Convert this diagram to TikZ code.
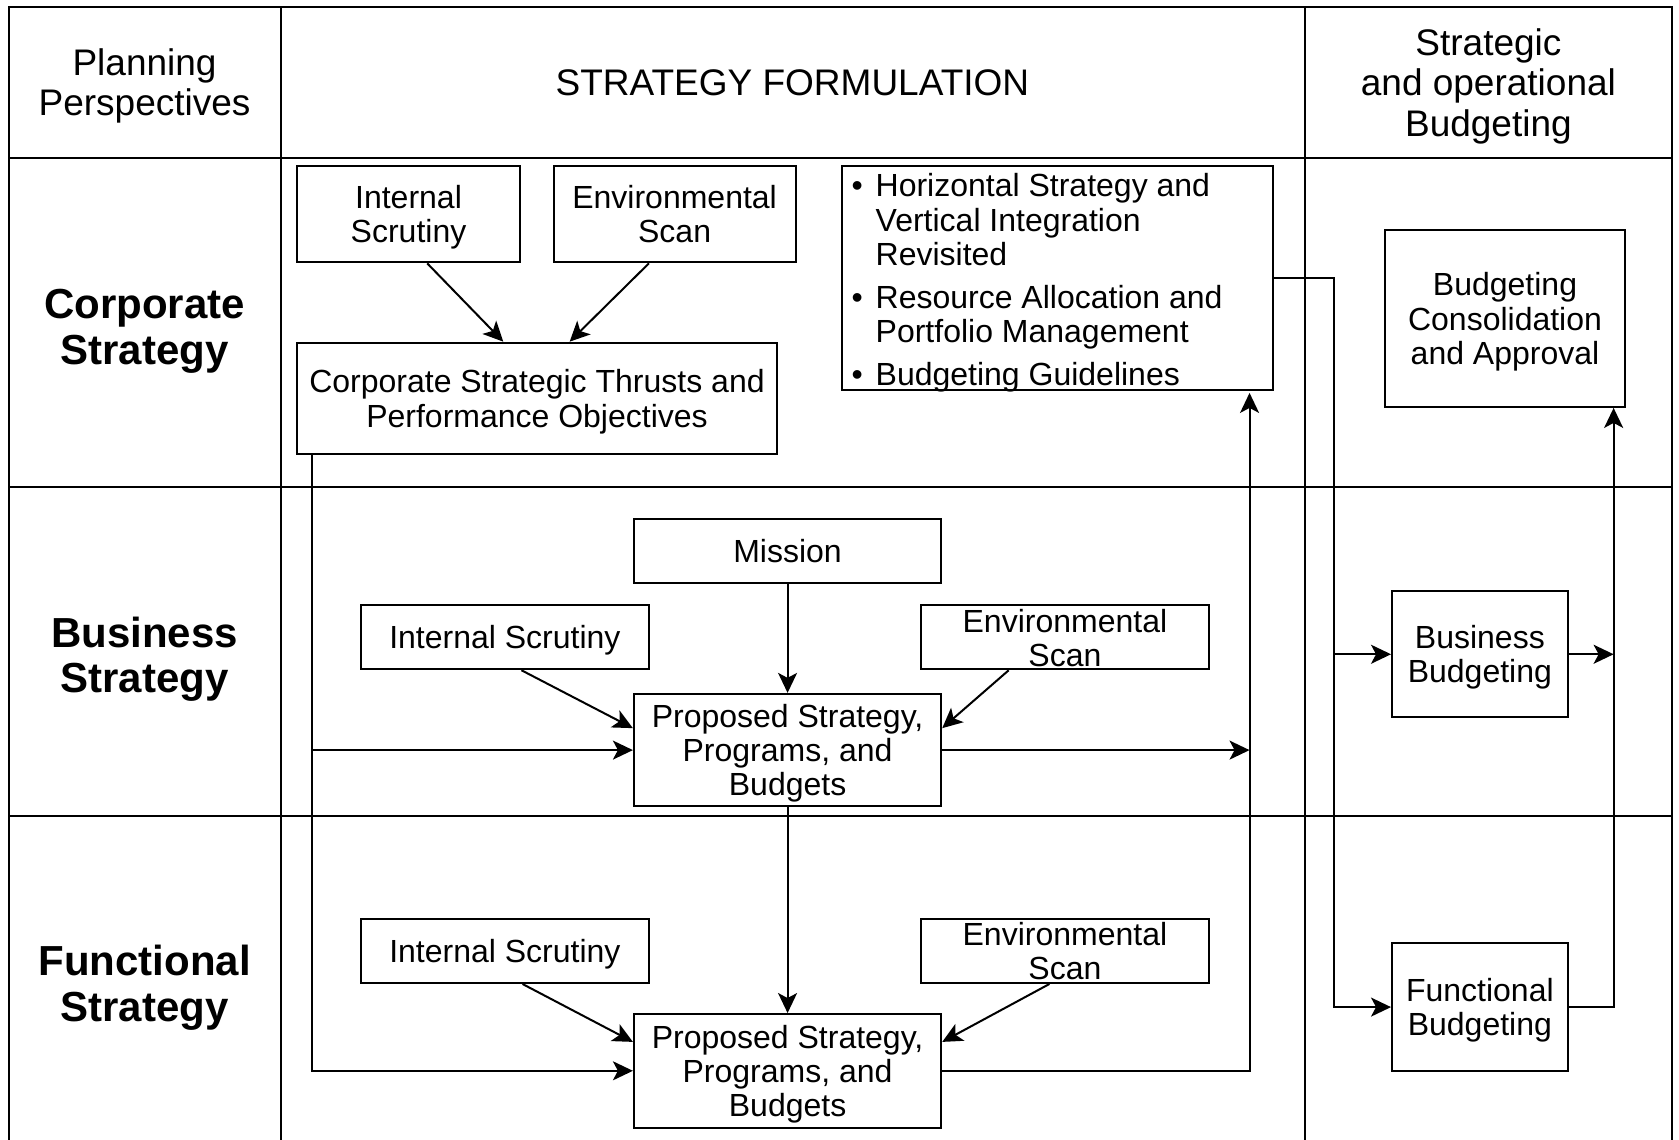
\documentclass[tikz,border=0pt]{standalone}
\usepackage{fontspec}
\setmainfont{Liberation Sans}
\usetikzlibrary{arrows.meta,calc}
\newcommand\nd[1]{\raisebox{0pt}[\height][0pt]{#1}}
\begin{document}
\begin{tikzpicture}[x=0.5354pt,y=-0.5354pt,
  grid/.style={line width=1pt},
  box/.style={draw, line width=1pt, inner sep=0pt, align=center, font=\fontsize{16}{17.1}\selectfont},
  sz/.style 2 args={minimum width=#1*0.5354pt, minimum height=#2*0.5354pt},
  txt/.style={inner sep=0pt, align=center, font=\fontsize{16}{17.1}\selectfont},
  hdr/.style={inner sep=0pt, align=center, font=\fontsize{18.5}{20.1}\selectfont},
  rowlab/.style={inner sep=0pt, align=center, font=\fontsize{21}{22.8}\selectfont\bfseries},
  conn/.style={line width=1pt},
  arr/.style={conn, -{Stealth[length=10pt,width=9.5pt,inset=2.5pt]}},
]
\useasboundingbox (0,0) rectangle (1568,1064.6);
% table
\draw[grid] (8,1064.6) -- (8,7) -- (1561,7) -- (1561,1064.6);
\draw[grid] (8,148) -- (1561,148);
\draw[grid] (8,455) -- (1561,455);
\draw[grid] (8,762) -- (1561,762);
\draw[grid] (262,7) -- (262,1064.6);
\draw[grid] (1219,7) -- (1219,1064.6);
% headers
\node[hdr] (hPP) at (135,77) {Planning\\\nd{Perspectives}};
\node[hdr] (hSF) at (740,77) {STRATEGY FORMULATION};
\node[hdr] (hSB) at (1390,77) {Strategic\\and operational\\\nd{Budgeting}};
\node[rowlab] (rC) at (135,305) {Corporate\\\nd{Strategy}};
\node[rowlab] (rB) at (135,611.5) {Business\\\nd{Strategy}};
\node[rowlab] (rF) at (135,918.5) {Functional\\\nd{Strategy}};
% corporate row
\node[box, sz={209}{90}] (cIS) at (381.5,200) {Internal\\\nd{Scrutiny}};
\node[box, sz={226}{90}] (cES) at (630,200) {Environmental\\Scan};
\node[box, sz={449}{104}] (cCS) at (501.5,372) {Corporate Strategic Thrusts and\\\nd{Performance Objectives}};
\node[box, sz={403}{209}] (cBL) at (987.5,259.5) {};
\node[txt, anchor=west, align=left] (cBLt) at (795,261)
  {\makebox[12pt][l]{•}Horizontal Strategy and\\\hspace*{12pt}Vertical Integration\\\hspace*{12pt}Revisited\\[4.3pt]
   \makebox[12pt][l]{•}Resource Allocation and\\\hspace*{12pt}Portfolio Management\\[4.3pt]
   \nd{\makebox[12pt][l]{•}Budgeting Guidelines}};
\node[box, sz={225}{165}] (cBC) at (1405.5,297.5) {Budgeting\\Consolidation\\\nd{and Approval}};
% business row
\node[box, sz={287}{59}] (bMi) at (735.5,514.5) {Mission};
\node[box, sz={269}{60}] (bIS) at (471.5,595) {\nd{Internal Scrutiny}};
\node[box, sz={269}{60}] (bES) at (994.5,595) {};
\node[txt] (bESt) at (994.5,595.5) {Environmental\\Scan};
\node[box, sz={287}{105}] (bPS) at (735.5,700.5) {Proposed Strategy,\\Programs, and\\\nd{Budgets}};
\node[box, sz={164}{118}] (bBB) at (1382,611) {Business\\\nd{Budgeting}};
% functional row
\node[box, sz={269}{60}] (fIS) at (471.5,888) {\nd{Internal Scrutiny}};
\node[box, sz={269}{60}] (fES) at (994.5,888) {};
\node[txt] (fESt) at (994.5,888.5) {Environmental\\Scan};
\node[box, sz={287}{106}] (fPS) at (735.5,1000) {Proposed Strategy,\\Programs, and\\\nd{Budgets}};
\node[box, sz={164}{119}] (fFB) at (1382,940.5) {Functional\\\nd{Budgeting}};
% connectors corporate
\draw[arr] ($(cIS.south)+(17.5,0)$) -- ($(cCS.north)+(-31.5,0)$);
\draw[arr] ($(cES.south)+(-24,0)$) -- ($(cCS.north)+(30.5,0)$);
% connectors business
\draw[arr] (bMi.south) -- (bPS.north);
\draw[arr] ($(bIS.south)+(15.5,0)$) -- ($(bPS.west)+(0,-20.5)$);
\draw[arr] ($(bES.south)+(-52.5,0)$) -- ($(bPS.east)+(0,-20.5)$);
% connectors functional
\draw[arr] (bPS.south) -- (fPS.north);
\draw[arr] ($(fIS.south)+(16.5,0)$) -- ($(fPS.west)+(0,-27)$);
\draw[arr] ($(fES.south)+(-14.5,0)$) -- ($(fPS.east)+(0,-27)$);
% left trunk
\coordinate (L) at ($(cCS.south west)+(15,0)$);
\draw[arr] (L) |- (fPS.west);
\draw[arr] (L |- bPS.west) -- (bPS.west);
% right trunk
\coordinate (R) at ($(cBL.south east)+(-23,2)$);
\draw[arr] (fPS.east) -| (R);
\draw[arr] (bPS.east) -- (bPS.east -| R);
% to budgeting
\coordinate (S) at ($(cBL.east)+(56,0)$);
\draw[arr] (cBL.east) -- (S) |- (fFB.west);
\draw[arr] (S |- bBB.west) -- (bBB.west);
\coordinate (T) at ($(cBC.south east)+(-12,0)$);
\draw[arr] (fFB.east) -| (T);
\draw[arr] (bBB.east) -- (bBB.east -| T);
\end{tikzpicture}
\end{document}
